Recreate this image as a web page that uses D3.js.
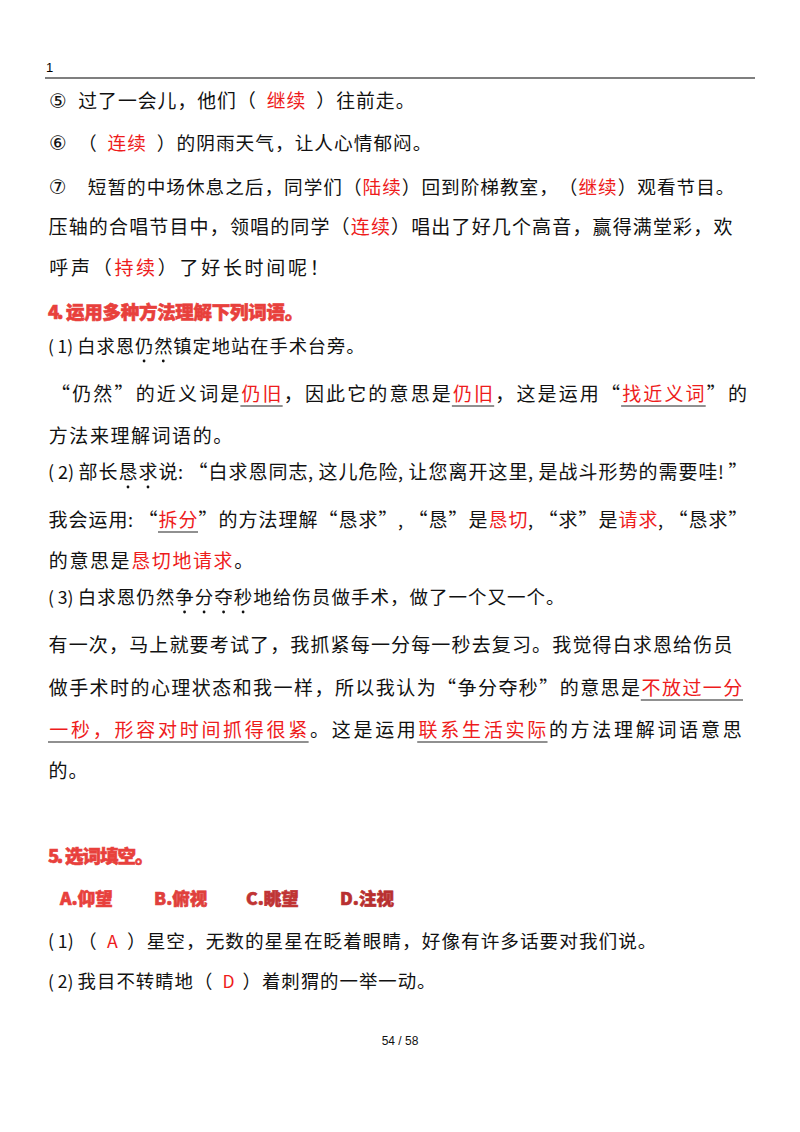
<!DOCTYPE html>
<html><head><meta charset="utf-8">
<script src="https://cdn.jsdelivr.net/npm/d3@7"></script>
<style>body{margin:0;background:#fff}</style></head>
<body><svg id="c" width="800" height="1132"></svg>
<script>
// styles: n normal, r red, u red underlined, d dotted-below black, h heading red bold
const lineTexts = [
  [["⑤","n"],[" 过了一会儿，他们（ ","n"],["继续","r"],[" ）往前走。","n"]],
  [["⑥","n"],[" （ ","n"],["连续","r"],[" ）的阴雨天气，让人心情郁闷。","n"]],
  [["⑦","n"],["  短暂的中场休息之后，同学们（","n"],["陆续","r"],["）回到阶梯教室，（","n"],["继续","r"],["）观看节目。","n"]],
  [["压轴的合唱节目中，领唱的同学（","n"],["连续","r"],["）唱出了好几个高音，赢得满堂彩，欢","n"]],
  [["呼声（","n"],["持续","r"],["）了好长时间呢！","n"]],
  [["4.运用多种方法理解下列词语。","h"]],
  [["(1)","n"],["白求恩","n"],["仍然","d"],["镇定地站在手术台旁。","n"]],
  [["“仍然”的近义词是","n"],["仍旧","u"],["，因此它的意思是","n"],["仍旧","u"],["，这是运用“","n"],["找近义词","u"],["”的","n"]],
  [["方法来理解词语的。","n"]],
  [["(2)部长","n"],["恳求","d"],["说:“白求恩同志,这儿危险,让您离开这里,是战斗形势的需要哇!”","n"]],
  [["我会运用:“","n"],["拆分","u"],["”的方法理解“恳求”,“恳”是","n"],["恳切","r"],[",“求”是","n"],["请求","r"],[",“恳求”","n"]],
  [["的意思是","n"],["恳切地请求","r"],["。","n"]],
  [["(3)白求恩仍然","n"],["争分夺秒","d"],["地给伤员做手术，做了一个又一个。","n"]],
  [["有一次，马上就要考试了，我抓紧每一分每一秒去复习。我觉得白求恩给伤员","n"]],
  [["做手术时的心理状态和我一样，所以我认为“争分夺秒”的意思是","n"],["不放过一分","u"]],
  [["一秒，形容对时间抓得很紧","u"],["。这是运用","n"],["联系生活实际","u"],["的方法理解词语意思","n"]],
  [["的。","n"]],
  [["5.选词填空。","h"]],
  [["(1)（ ","n"],["A","r"],[" ）星空，无数的星星在眨着眼睛，好像有许多话要对我们说。","n"]],
  [["(2)我目不转睛地（ ","n"],["D","r"],[" ）着刺猬的一举一动。","n"]]
];
const lineBaselines = [108,150,194,234,275,319,353,401,443,479,527,568,604,652,695,737,778,863,948,988];
const lineStarts = [48,48,48,48,48,48,48,50,48,48,48,48,48,48,48,48,48,48,48,48];
const lineEnds = [415,432,735,733,330,303,365,748,233,748,748,254,565,733,743,743,88,153,657,436];
const optionLabels = ["A.仰望","B.俯视","C.眺望","D.注视"];
const optionX = [60,154,246,340];
const optionColors = ["#e8403c","#e0403c","#c03434","#b83030"];
const headerNumber = "1";
const pageLabel = "54 / 58";

const svg = d3.select("#c");
const FONT = "'Noto Sans CJK SC', sans-serif";
const unit = ch => ch === " " ? 0.5 : (ch.charCodeAt(0) < 128 ? 0.5 : 1);

svg.append("text").attr("x",46).attr("y",72).attr("font-size",13).attr("font-family","Liberation Sans, sans-serif").text(headerNumber);
svg.append("line").attr("x1",45).attr("x2",755).attr("y1",78).attr("y2",78).attr("stroke","#555").attr("stroke-width",1.3);

lineTexts.forEach((segs, li) => {
  const chars = [];
  segs.forEach(([t, s]) => [...t].forEach(ch => chars.push({ch, s})));
  const total = d3.sum(chars, c => unit(c.ch));
  const x = d3.scaleLinear().domain([0,total]).range([lineStarts[li], lineEnds[li]]);
  const adv = x(1) - x(0);
  const heading = segs[0][1] === "h";
  const fs = heading ? 18.5 : Math.min(adv*0.95, 19);
  let acc = 0;
  chars.forEach(c => { c.x0 = x(acc); acc += unit(c.ch); c.x1 = x(acc); });
  const y = lineBaselines[li];
  const g = svg.append("g");
  g.selectAll("text").data(chars.filter(c => c.ch !== " ")).join("text")
    .attr("x", c => unit(c.ch) === 1 ? (c.x0 + c.x1)/2 : c.x0)
    .attr("text-anchor", c => unit(c.ch) === 1 ? "middle" : "start")
    .attr("y", y)
    .attr("font-family", c => "①②③④⑤⑥⑦".includes(c.ch) ? "DejaVu Sans, sans-serif" : FONT)
    .attr("font-size", c => "①②③④⑤⑥⑦".includes(c.ch) ? 20 : (unit(c.ch) < 1 && !heading ? fs*0.95 : fs))
    .attr("font-weight", heading ? 900 : 400)
    .attr("fill", c => c.s === "h" ? "#e8403c" : (c.s === "r" || c.s === "u") ? "#ee1c1c" : "#111")
    .attr("stroke", heading ? "#e8403c" : "none").attr("stroke-width", heading ? 0.6 : 0)
    .text(c => c.ch);
  let i = 0;
  while (i < chars.length) {
    if (chars[i].s === "u") {
      let j = i; while (j + 1 < chars.length && chars[j+1].s === "u") j++;
      g.append("line").attr("x1", chars[i].x0).attr("x2", chars[j].x1)
        .attr("y1", y + 5).attr("y2", y + 5).attr("stroke", "#222").attr("stroke-width", 1.2);
      i = j + 1;
    } else i++;
  }
  g.selectAll("circle").data(chars.filter(c => c.s === "d")).join("circle")
    .attr("cx", c => (c.x0 + c.x1)/2).attr("cy", y + 8).attr("r", 1.4).attr("fill", "#111");
});

svg.selectAll("text.opt").data(optionLabels).join("text").attr("class","opt")
  .attr("x", (d,i) => optionX[i]).attr("y", 905)
  .attr("font-family", FONT).attr("font-size", 17.5).attr("font-weight", 900)
  .attr("stroke", (d,i) => optionColors[i]).attr("stroke-width", 0.6)
  .attr("fill", (d,i) => optionColors[i]).text(d => d);

svg.append("text").attr("x",400).attr("y",1045).attr("text-anchor","middle")
  .attr("font-size",12).attr("font-family","Liberation Sans, sans-serif").attr("fill","#111").text(pageLabel);
</script></body></html>
